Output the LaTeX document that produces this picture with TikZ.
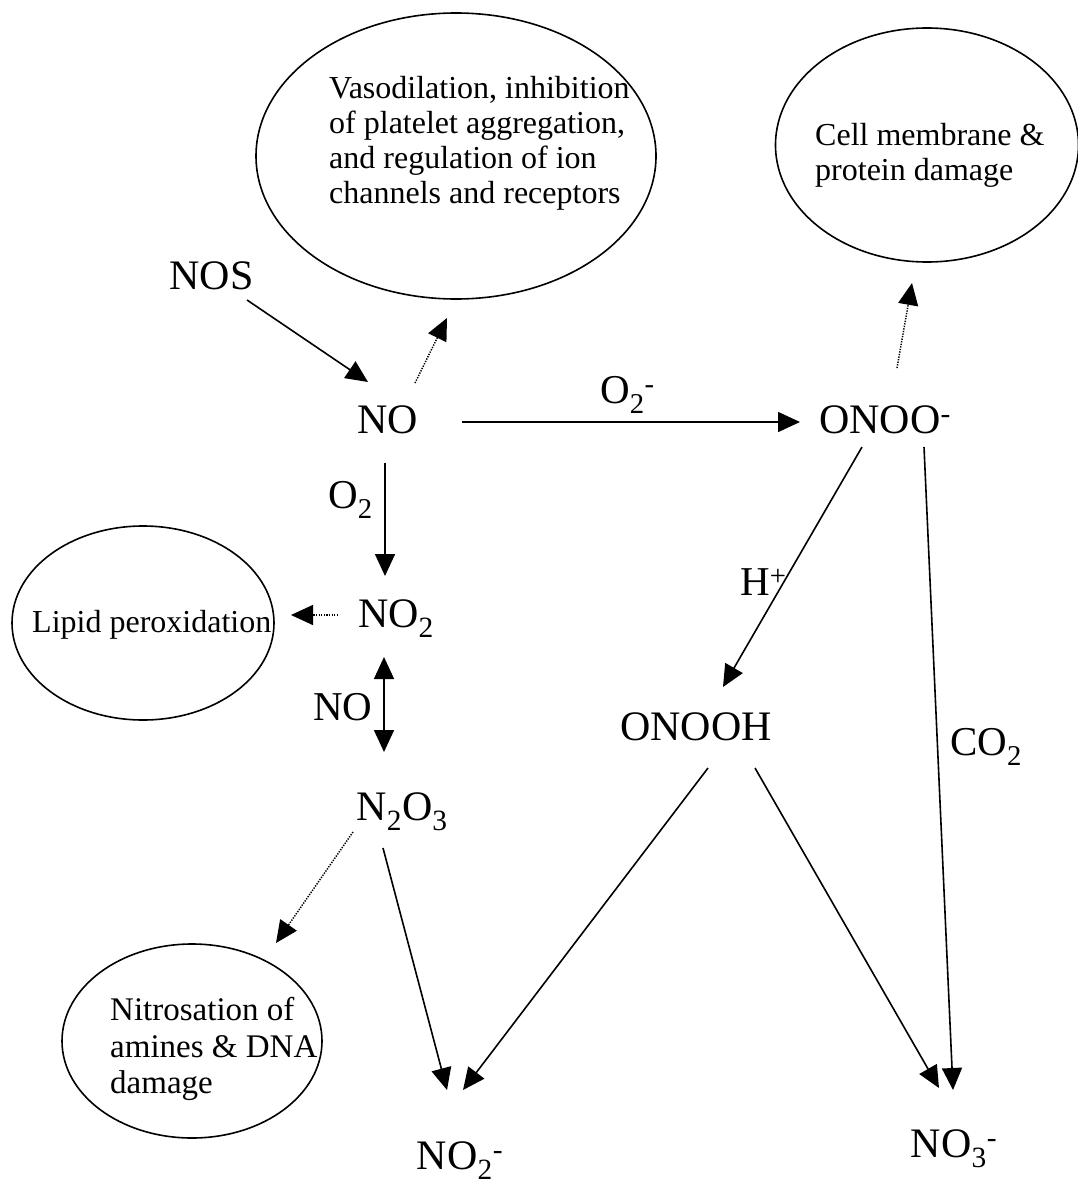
\documentclass[tikz,border=0pt]{standalone}
\usepackage{fontspec}
\setmainfont{Liberation Serif}
\usetikzlibrary{arrows.meta,shapes.geometric}
\begin{document}
\begin{tikzpicture}[x=1pt,y=-1pt,
  chem/.style={font=\fontsize{42}{46}\selectfont, inner sep=0pt, anchor=base},
  lab/.style={font=\fontsize{41}{44}\selectfont, inner sep=0pt, anchor=base west},
  effect/.style={draw, ellipse, line width=1.6pt, inner sep=0pt},
  etext/.style={font=\fontsize{32}{35}\selectfont, align=left, inner sep=0pt},
  rx/.style={-{Triangle[length=22pt,width=20pt]}, line width=1.6pt},
  fx/.style={-{Triangle[length=22pt,width=20pt]}, line width=1.5pt, dash pattern=on 1.3pt off 1.3pt},
]
\clip (0,0) rectangle (1078,1186);
\fill[white] (0,0) rectangle (1078,1186);

% effect ellipses
\node[effect, minimum width=400pt, minimum height=286pt] (e1) at (456,156) {};
\node[etext, anchor=west] (t1) at (329,143) {Vasodilation, inhibition\\of platelet aggregation,\\and regulation of ion\\channels and receptors};
\node[effect, minimum width=303pt, minimum height=234pt] (e2) at (927,145) {};
\node[etext, anchor=west] (t2) at (815,155) {Cell membrane \&\\protein damage};
\node[effect, minimum width=262pt, minimum height=194pt] (e3) at (143,623) {};
\node[etext, anchor=base west] (t3) at (32,632) {Lipid peroxidation};
\node[effect, minimum width=260pt, minimum height=194pt] (e4) at (192,1041) {};
\node[etext, font=\fontsize{33}{36.7}\selectfont, anchor=west] (t4) at (110,1049) {Nitrosation of\\amines \& DNA\\damage};

% species
\node[chem] (NOS) at (211.5,289) {NOS};
\node[chem] (NO) at (388,433) {NO};
\node[chem] (ONOO) at (885,433) {ONOO\textsuperscript{-}};
\node[chem] (NO2) at (396,627) {NO\textsubscript{2}};
\node[chem] (N2O3) at (402,820) {N\textsubscript{2}O\textsubscript{3}};
\node[chem] (ONOOH) at (696,740) {ONOOH};
\node[chem] (NO2m) at (460,1169) {NO\textsubscript{2}\textsuperscript{-}};
\node[chem] (NO3m) at (954,1157) {NO\textsubscript{3}\textsuperscript{-}};

% reagent labels
\node[lab] (lO2m) at (600,403) {O\textsubscript{2}\textsuperscript{-}};
\node[lab] (lO2) at (328,508) {O\textsubscript{2}};
\node[lab] (lNO) at (313,720) {NO};
\node[lab] (lH) at (740,595) {H\textsuperscript{+}};
\node[lab] (lCO2) at (950,755) {CO\textsubscript{2}};

% reactions
\draw[rx] ([shift={(35.5,11)}]NOS.base) -- ([shift={(-20,-51)}]NO.base);
\draw[rx] ([shift={(74,-11)}]NO.base) -- ([shift={(-85,-11)}]ONOO.base);
\draw[rx] ([shift={(-3,30)}]NO.base) -- ([shift={(-11,-51)}]NO2.base);
\draw[rx, {Triangle[length=22pt,width=20pt]}-{Triangle[length=22pt,width=20pt]}] ([shift={(-12,30)}]NO2.base) -- ([shift={(-18,-68)}]N2O3.base);
\draw[rx] ([shift={(-19,28)}]N2O3.base) -- ([shift={(-13,-79)}]NO2m.base);
\draw[rx] ([shift={(-23,14)}]ONOO.base) -- ([shift={(27,-53)}]ONOOH.base);
\draw[rx] ([shift={(39,14)}]ONOO.base) -- ([shift={(-1,-67)}]NO3m.base);
\draw[rx] ([shift={(12,28)}]ONOOH.base) -- ([shift={(3,-79)}]NO2m.base);
\draw[rx] ([shift={(59,28)}]ONOOH.base) -- ([shift={(-15,-69)}]NO3m.base);

% effects (dotted)
\draw[fx] ([shift={(27,-50)}]NO.base) -- ([shift={(-9,162)}]e1.center);
\draw[fx] ([shift={(12,-65)}]ONOO.base) -- ([shift={(-15,138)}]e2.center);
\draw[fx] ([shift={(-58,-12)}]NO2.base) -- ([shift={(148,-8)}]e3.center);
\draw[fx] ([shift={(-49,12)}]N2O3.base) -- ([shift={(84,-98)}]e4.center);
\end{tikzpicture}
\end{document}
